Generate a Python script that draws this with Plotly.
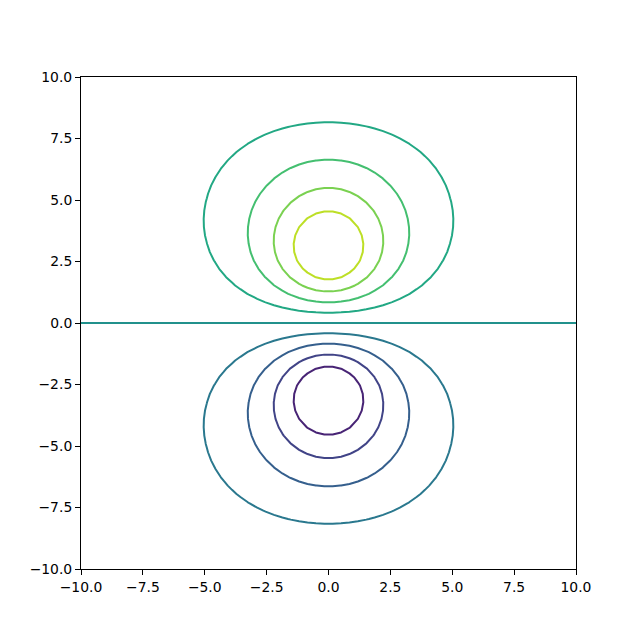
import numpy as np
import plotly.graph_objects as go

# ---- values -------------------------------------------------------------
x_range = [-10.0, 10.0]
y_range = [-10.0, 10.0]
n_grid = 60

# contour levels drawn (9 lines: -0.8 ... 0.8)
level_start = -0.8
level_end = 0.8
level_step = 0.2

# colours of the 9 drawn levels (matplotlib viridis, lowest to highest)
level_colors = ["#482475", "#414487", "#355f8d", "#2a788e", "#21918c",
                "#22a884", "#44bf70", "#7ad151", "#bddf26"]

# field shape: a smoothed dipole (+ at y=+pole_y, - at y=-pole_y) in the box,
# parameters estimated from where the drawn contours sit in the reference
pole_y = 2.6667
core_width = 2.1333
kernel_power = 0.297
amplitude = 18.232 * 0.2 * 1.05
x_squeeze = 1.07
n_images = 2
box_half = 10.0

tick_vals = [-10.0, -7.5, -5.0, -2.5, 0.0, 2.5, 5.0, 7.5, 10.0]
tick_text = ["\u221210.0", "\u22127.5", "\u22125.0", "\u22122.5", "0.0",
             "2.5", "5.0", "7.5", "10.0"]

# ---- build the field ------------------------------------------------------
xs = np.linspace(x_range[0], x_range[1], n_grid)
ys = np.linspace(y_range[0], y_range[1], n_grid)
X, Y = np.meshgrid(xs, ys)
Xs = x_squeeze * X
box_half_x = x_squeeze * box_half

period_x = 4 * box_half_x
period_y = 4 * box_half
x_imgs = [(period_x * m, 1.0) for m in range(-n_images, n_images + 1)] + \
         [(2 * box_half_x + period_x * m, -1.0) for m in range(-n_images, n_images)]

Z = np.zeros_like(X)
for y0, q in ((pole_y, 1.0), (-pole_y, -1.0)):
    y_imgs = [(y0 + period_y * n, 1.0) for n in range(-n_images, n_images + 1)] + \
             [(np.sign(y0) * 2 * box_half - y0 + period_y * n * np.sign(y0), -1.0)
              for n in range(-n_images, n_images)]
    for Xc, sx in x_imgs:
        for Yc, sy in y_imgs:
            r2 = (Xs - Xc) ** 2 + (Y - Yc) ** 2 + core_width ** 2
            Z += q * sx * sy * r2 ** (-kernel_power)
Z *= amplitude

n_lv = len(level_colors)
fig = go.Figure(go.Contour(
    x=xs, y=ys, z=Z,
    colorscale=[[k / (n_lv - 1), c] for k, c in enumerate(level_colors)],
    contours=dict(start=level_start, end=level_end + 1e-9, size=level_step, coloring="lines"),
    line=dict(width=2, smoothing=0),
    showscale=False,
    hoverinfo="skip",
))

axis_common = dict(
    showgrid=False, zeroline=False, showline=True, linecolor="black", linewidth=1,
    mirror=True, ticks="outside", ticklen=5, tickcolor="black", tickwidth=1,
    tickvals=tick_vals, ticktext=tick_text,
    tickfont=dict(family="DejaVu Sans", size=13.9, color="black"),
)
fig.update_xaxes(range=x_range, **axis_common)
fig.update_yaxes(range=y_range, **axis_common)
fig.update_layout(
    width=624, height=624,
    margin=dict(l=73, r=56, t=69, b=63),
    plot_bgcolor="white", paper_bgcolor="white",
    showlegend=False,
)
fig.write_html("out.html")
